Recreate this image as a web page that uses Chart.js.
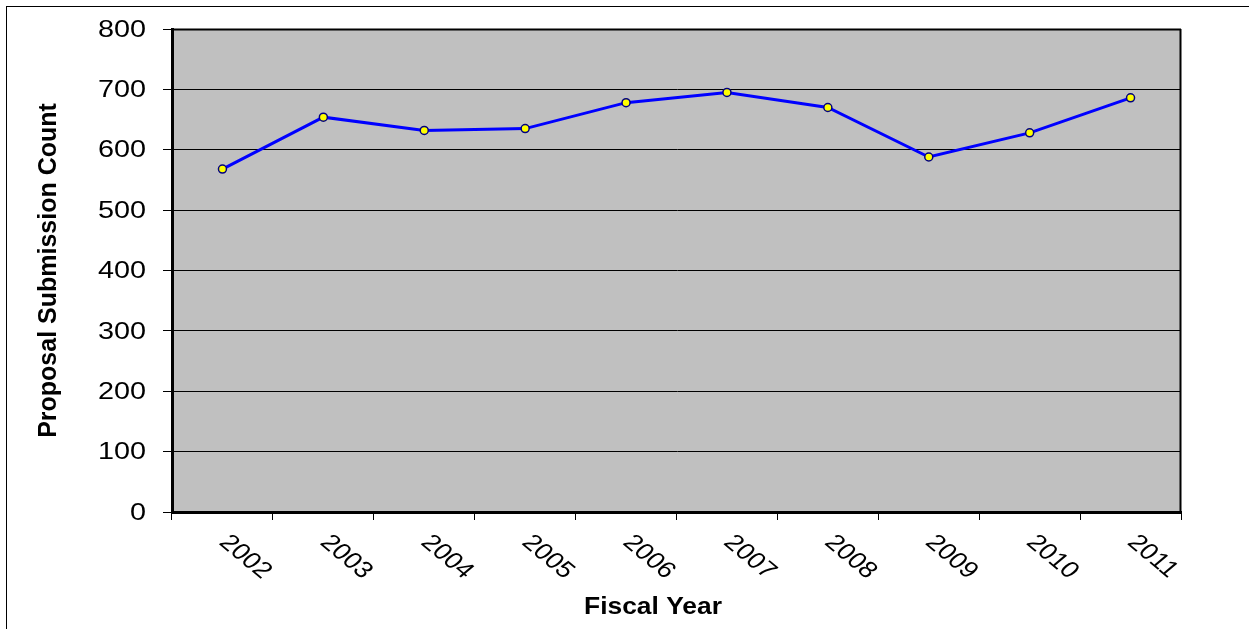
<!DOCTYPE html>
<html>
<head>
<meta charset="utf-8">
<script src="https://cdn.jsdelivr.net/npm/chart.js@4"></script>
<style>
  html, body { margin: 0; padding: 0; background: #fff; }
  #wrap { position: relative; width: 1249px; height: 629px; }
  canvas { display: block; }
</style>
</head>
<body>
<div id="wrap"><canvas id="c" width="1249" height="629"></canvas></div>
<script>
const years = ['2002','2003','2004','2005','2006','2007','2008','2009','2010','2011'];
const submissions = [568, 654, 632, 635, 678, 695, 670, 588, 628, 686];
const yTicks = [0, 100, 200, 300, 400, 500, 600, 700, 800];
const yTitle = 'Proposal Submission Count';
const xTitle = 'Fiscal Year';

const FONT = "'Liberation Sans', Arial, sans-serif";
const SX = 1.2; // horizontal text stretch seen in the reference

const framePlugin = {
  id: 'frame',
  beforeDraw(chart) {
    const {ctx, chartArea: a} = chart;
    ctx.save();
    ctx.fillStyle = '#ffffff';
    ctx.fillRect(0, 0, chart.width, chart.height);
    ctx.strokeStyle = '#000';
    ctx.lineWidth = 1;
    ctx.strokeRect(6.5, 6.5, 1400, 800);
    ctx.fillStyle = '#c0c0c0';
    ctx.fillRect(a.left, a.top, a.right - a.left, a.bottom - a.top);
    ctx.restore();
  },
  afterDatasetsDraw(chart) {
    const {ctx, chartArea: a} = chart;
    ctx.save();
    ctx.strokeStyle = '#000';
    ctx.lineWidth = 2;
    ctx.beginPath();
    ctx.moveTo(a.left, a.top + 0.5);
    ctx.lineTo(a.right, a.top + 0.5);
    ctx.moveTo(a.right - 0.5, a.top);
    ctx.lineTo(a.right - 0.5, a.bottom);
    ctx.stroke();
    ctx.restore();
  },
  afterDraw(chart) {
    const {ctx, chartArea: a} = chart;
    const xs = chart.scales.x;
    const ys = chart.scales.y;
    ctx.save();
    ctx.fillStyle = '#000';
    // y tick labels
    ctx.font = '24px ' + FONT;
    ctx.textAlign = 'right';
    ctx.textBaseline = 'middle';
    yTicks.forEach(v => {
      const py = ys.getPixelForValue(v);
      ctx.save();
      ctx.translate(146, py + 1);
      ctx.scale(SX, 1);
      ctx.fillText(String(v), 0, 0);
      ctx.restore();
    });
    // x tick labels, rotated down-right
    ctx.font = '23px ' + FONT;
    ctx.textAlign = 'left';
    ctx.textBaseline = 'middle';
    years.forEach((lbl, i) => {
      const px = xs.getPixelForValue(i);
      ctx.save();
      ctx.translate(px + 1, a.bottom + 27);
      ctx.scale(SX, 1);
      ctx.rotate(Math.PI / 4);
      ctx.fillText(lbl, 0, 0);
      ctx.restore();
    });
    // x axis title
    ctx.font = 'bold 24px ' + FONT;
    ctx.textAlign = 'center';
    ctx.textBaseline = 'middle';
    ctx.save();
    ctx.translate(653, 607);
    ctx.scale(1.1, 1);
    ctx.fillText(xTitle, 0, 0);
    ctx.restore();
    ctx.restore();
  }
};

new Chart(document.getElementById('c'), {
  type: 'line',
  data: {
    labels: years,
    datasets: [{
      data: submissions,
      borderColor: '#0000ff',
      borderWidth: 3,
      pointBackgroundColor: '#ffff00',
      pointBorderColor: '#000080',
      pointBorderWidth: 1.5,
      pointRadius: 4,
      tension: 0,
      fill: false
    }]
  },
  options: {
    responsive: false,
    animation: false,
    devicePixelRatio: 1,
    layout: { padding: { left: 0, top: 29, right: 68, bottom: 0 } },
    plugins: { legend: { display: false }, tooltip: { enabled: false } },
    scales: {
      x: {
        type: 'category',
        offset: true,
        grid: {
          offset: true,
          drawOnChartArea: false,
          drawTicks: true,
          tickLength: 8,
          color: '#000',
          lineWidth: 1
        },
        border: { display: true, color: '#000', width: 3 },
        ticks: { display: false },
        afterFit(scale) { scale.height = 629 - 512; }
      },
      y: {
        min: 0,
        max: 800,
        afterBuildTicks(scale) { scale.ticks = yTicks.map(v => ({ value: v })); },
        grid: {
          color: '#000',
          lineWidth: 1,
          tickLength: 9,
          drawTicks: true
        },
        border: { display: true, color: '#000', width: 3 },
        ticks: { display: false },
        title: {
          display: true,
          text: yTitle,
          color: '#000',
          font: { family: FONT, size: 25, weight: 'bold' },
          padding: { top: 34, bottom: 0 }
        },
        afterFit(scale) { scale.width = 172; }
      }
    }
  },
  plugins: [framePlugin]
});
</script>
</body>
</html>
